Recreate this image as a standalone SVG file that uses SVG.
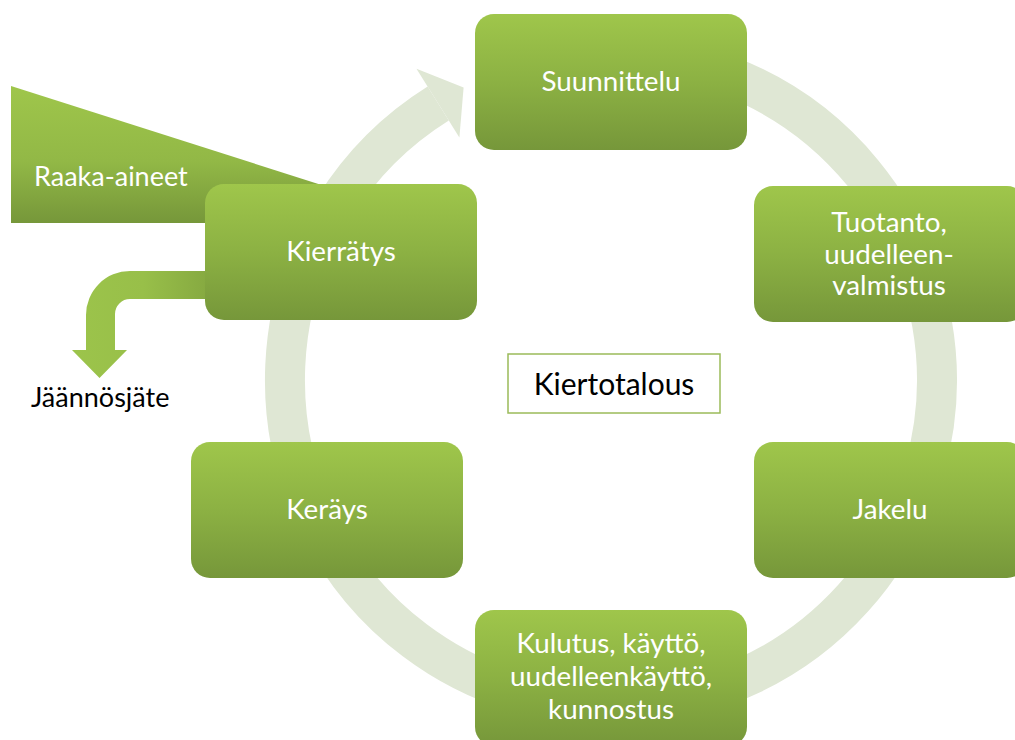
<svg xmlns="http://www.w3.org/2000/svg" width="1015" height="740" viewBox="0 0 1015 740">
<defs>
<linearGradient id="boxGrad" x1="0" y1="0" x2="0" y2="1">
<stop offset="0" stop-color="#9fc64b"/>
<stop offset="0.5" stop-color="#8cb143"/>
<stop offset="1" stop-color="#76973a"/>
</linearGradient>
<linearGradient id="rawGrad" x1="0" y1="0" x2="0" y2="1">
<stop offset="0" stop-color="#9fc64b"/>
<stop offset="0.55" stop-color="#92b846"/>
<stop offset="1" stop-color="#76973a"/>
</linearGradient>
<linearGradient id="bentGrad" gradientUnits="userSpaceOnUse" x1="72" y1="0" x2="215" y2="0">
<stop offset="0" stop-color="#9cc44b"/>
<stop offset="0.5" stop-color="#98bf49"/>
<stop offset="1" stop-color="#84a740"/>
</linearGradient>
<style>
.box{fill:url(#boxGrad);}
.lbl{font-family:Lato,"Liberation Sans",sans-serif;font-size:27.8px;fill:#ffffff;text-anchor:middle;}
.blk{font-family:Lato,"Liberation Sans",sans-serif;font-size:27px;fill:#000000;}
.ring{fill:none;stroke:#dfe7d4;stroke-width:40;}
.ringhead{fill:#dfe7d4;}
</style>
</defs>
<rect width="1015" height="740" fill="#ffffff"/>
<g id="connectors">
<path class="ring" d="M582.6,55.2 A326,326 0 1 1 438.2,103.5"/>
<polygon class="ringhead" points="416.5,68.8 463.6,87.6 459.4,137.5"/>
</g>
<g id="raaka-aineet">
<polygon points="11,86 400,210 400,223 11,223" fill="url(#rawGrad)"/>
<text class="lbl" x="34" y="186" style="text-anchor:start;font-size:27px">Raaka-aineet</text>
</g>
<g id="jaannosjate">
<path d="M215,271 L130,271 A44,44 0 0 0 86,315 L86,350 L72,350 L99.5,378 L127,350 L115,350 L115,314 A15,15 0 0 1 130,299 L215,299 Z" fill="url(#bentGrad)"/>
<text class="blk" x="31" y="407">Jäännösjäte</text>
</g>
<g id="suunnittelu">
<rect class="box" x="475" y="14" width="272" height="136" rx="19"/>
<text class="lbl" x="611" y="91">Suunnittelu</text>
</g>
<g id="tuotanto">
<rect class="box" x="754" y="186" width="272" height="136" rx="19"/>
<text class="lbl" x="889" y="232">Tuotanto,</text>
<text class="lbl" x="889" y="264">uudelleen-</text>
<text class="lbl" x="889" y="295">valmistus</text>
</g>
<g id="jakelu">
<rect class="box" x="754" y="442" width="272" height="136" rx="19"/>
<text class="lbl" x="890" y="519">Jakelu</text>
</g>
<g id="kulutus">
<rect class="box" x="475" y="610" width="272" height="136" rx="19"/>
<text class="lbl" x="611" y="653">Kulutus, käyttö,</text>
<text class="lbl" x="611" y="686">uudelleenkäyttö,</text>
<text class="lbl" x="611" y="719">kunnostus</text>
</g>
<g id="keraus">
<rect class="box" x="191" y="442" width="272" height="136" rx="19"/>
<text class="lbl" x="327" y="519">Keräys</text>
</g>
<g id="kierratys">
<rect class="box" x="205" y="184" width="272" height="136" rx="19"/>
<text class="lbl" x="341" y="261">Kierrätys</text>
</g>
<g id="kiertotalous">
<rect x="508" y="354" width="212" height="59" fill="#ffffff" stroke="#9bbb59" stroke-width="1.5"/>
<text class="blk" x="614" y="395" style="text-anchor:middle;font-size:30px">Kiertotalous</text>
</g>
</svg>
